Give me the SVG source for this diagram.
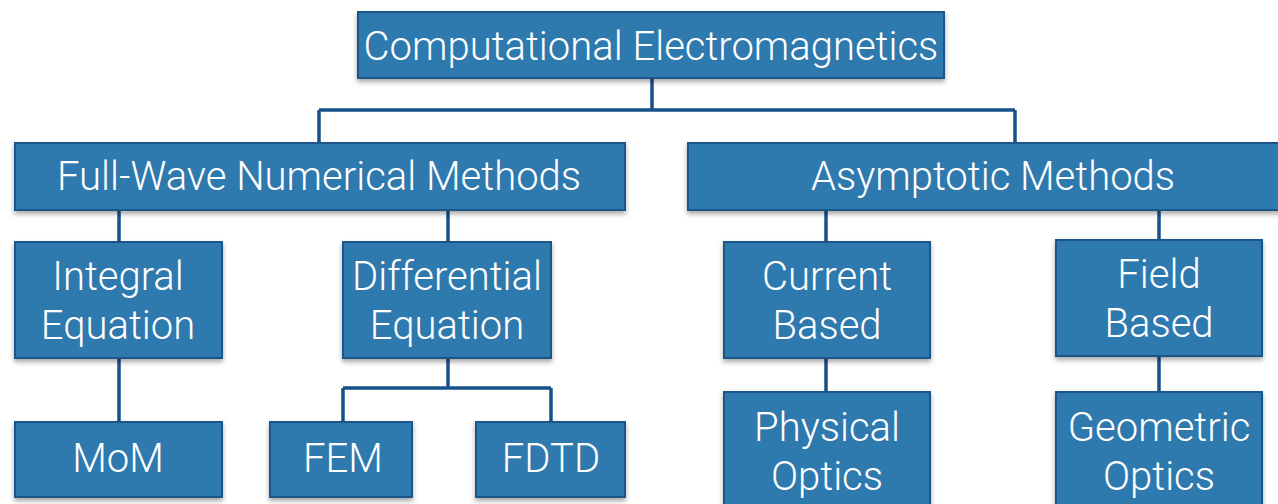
<svg xmlns="http://www.w3.org/2000/svg" width="1278" height="504" viewBox="0 0 1278 504">
<defs>
<filter id="sh" x="-5%" y="-10%" width="110%" height="130%">
<feDropShadow dx="0" dy="3" stdDeviation="2.5" flood-color="#000" flood-opacity="0.35"/>
</filter>
</defs>
<style>
.box{fill:#2f79ae;stroke:#1d5688;stroke-width:2;filter:url(#sh)}
.t{fill:#fff;font-family:Roboto,"Liberation Sans",Arial,sans-serif;font-weight:300;font-size:40px;text-anchor:middle}
.c{fill:none;stroke:#18518a;stroke-width:3.5}
</style>
<rect width="1278" height="504" fill="#fff"/>
<g id="connectors">
<path class="c" d="M652 78V110M319 110H1015M319 110V143M1015 110V143"/>
<path class="c" d="M119 210V242M448 210V242M826 210V242M1159 210V240"/>
<path class="c" d="M119 358V422M448 358V388M343 388H551M343 388V422M551 388V422"/>
<path class="c" d="M826 358V392M1159 356V392"/>
</g>
<g id="n-cem"><rect class="box" x="358" y="12" width="586" height="66"/><text class="t" x="651" y="60">Computational Electromagnetics</text></g>
<g id="n-fullwave"><rect class="box" x="15" y="143" width="610" height="67"/><text class="t" x="319" y="190">Full-Wave Numerical Methods</text></g>
<g id="n-asym"><rect class="box" x="688" y="143" width="600" height="67"/><text class="t" x="993" y="190">Asymptotic Methods</text></g>
<g id="n-integral"><rect class="box" x="15" y="242" width="207" height="116"/><text class="t" x="118" y="290">Integral</text><text class="t" x="118" y="339">Equation</text></g>
<g id="n-differential"><rect class="box" x="343" y="242" width="208" height="116"/><text class="t" x="447" y="290">Differential</text><text class="t" x="447" y="339">Equation</text></g>
<g id="n-current"><rect class="box" x="724" y="242" width="206" height="116"/><text class="t" x="827" y="290">Current</text><text class="t" x="827" y="339">Based</text></g>
<g id="n-field"><rect class="box" x="1056" y="240" width="206" height="116"/><text class="t" x="1159" y="288">Field</text><text class="t" x="1159" y="337">Based</text></g>
<g id="n-mom"><rect class="box" x="15" y="422" width="207" height="75"/><text class="t" x="118" y="472">MoM</text></g>
<g id="n-fem"><rect class="box" x="270" y="422" width="142" height="75"/><text class="t" x="343" y="472">FEM</text></g>
<g id="n-fdtd"><rect class="box" x="476" y="422" width="149" height="75"/><text class="t" x="551" y="472">FDTD</text></g>
<g id="n-po"><rect class="box" x="724" y="392" width="206" height="120"/><text class="t" x="827" y="441">Physical</text><text class="t" x="827" y="490">Optics</text></g>
<g id="n-go"><rect class="box" x="1056" y="392" width="206" height="120"/><text class="t" x="1159" y="441">Geometric</text><text class="t" x="1159" y="490">Optics</text></g>
</svg>
